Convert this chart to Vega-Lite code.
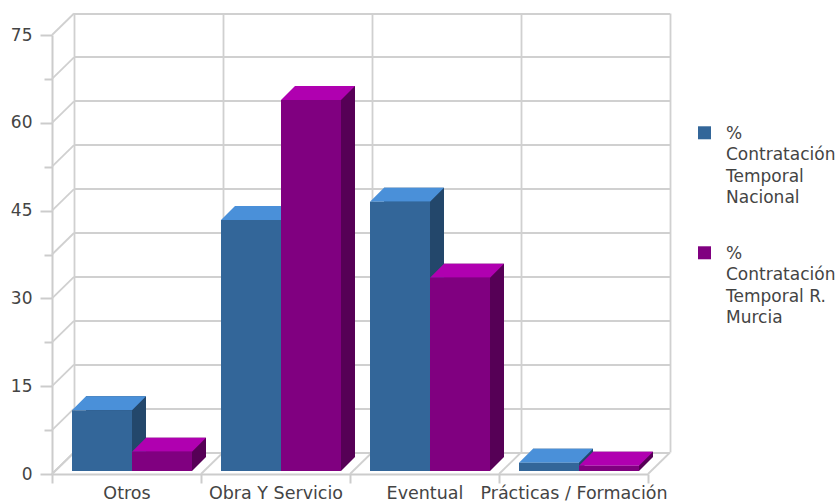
{
  "$schema": "https://vega.github.io/schema/vega-lite/v6.json",
  "width": 596,
  "height": 439,
  "autosize": {"type": "none"},
  "padding": {"left": 52, "top": 35, "right": 188, "bottom": 27},
  "background": "white",
  "config": {
    "font": "DejaVu Sans",
    "view": {"stroke": null},
    "style": {"guide-label": {"lineHeight": 21.5}},
    "axis": {"labelFont": "DejaVu Sans", "labelFontSize": 17, "labelColor": "#444444", "title": null}
  },
  "datasets": {
    "ticks": [{"v": 0}, {"v": 7.5}, {"v": 15}, {"v": 22.5}, {"v": 30}, {"v": 37.5}, {"v": 45}, {"v": 52.5}, {"v": 60}, {"v": 67.5}, {"v": 75}],
    "contratos": [
      {"categoria": "Otros", "serie": "% Contratación Temporal Nacional", "valor": 10.4},
      {"categoria": "Otros", "serie": "% Contratación Temporal R. Murcia", "valor": 3.3},
      {"categoria": "Obra Y Servicio", "serie": "% Contratación Temporal Nacional", "valor": 42.9},
      {"categoria": "Obra Y Servicio", "serie": "% Contratación Temporal R. Murcia", "valor": 63.4},
      {"categoria": "Eventual", "serie": "% Contratación Temporal Nacional", "valor": 46.0},
      {"categoria": "Eventual", "serie": "% Contratación Temporal R. Murcia", "valor": 33.0},
      {"categoria": "Prácticas / Formación", "serie": "% Contratación Temporal Nacional", "valor": 1.4},
      {"categoria": "Prácticas / Formación", "serie": "% Contratación Temporal R. Murcia", "valor": 0.9}
    ]
  },
  "data": {"name": "contratos"},
  "layer": [
    {
      "data": {"name": "ticks"},
      "mark": {"type": "point", "shape": "M-74.5,0L-52.5,-21.5", "size": 4, "filled": false, "stroke": "#d0d0d0", "strokeWidth": 1.8, "opacity": 1},
      "encoding": {
        "x": {"datum": "Otros", "type": "nominal", "axis": null},
        "y": {
          "field": "v", "type": "quantitative",
          "axis": {"orient": "left", "grid": false, "values": [7.5, 22.5, 37.5, 52.5, 67.5], "labels": false, "domain": false, "ticks": true, "tickColor": "#cccccc", "tickWidth": 2, "tickSize": 8, "title": null}
        }
      }
    },
    {
      "transform": [{"filter": "datum.serie === '% Contratación Temporal Nacional'"}],
      "mark": {"type": "point", "shape": "M-74.5,0L-52.5,-21.5", "size": 4, "filled": false, "stroke": "#d0d0d0", "strokeWidth": 1.8, "opacity": 1},
      "encoding": {
        "x": {"field": "categoria", "type": "nominal", "axis": null},
        "y": {"datum": 0, "type": "quantitative", "axis": null}
      }
    },
    {
      "transform": [{"filter": "datum.serie === '% Contratación Temporal Nacional' && datum.categoria === 'Prácticas / Formación'"}],
      "mark": {"type": "point", "shape": "M74.5,0L96.5,-21.5", "size": 4, "filled": false, "stroke": "#d0d0d0", "strokeWidth": 1.8, "opacity": 1},
      "encoding": {
        "x": {"field": "categoria", "type": "nominal", "axis": null},
        "y": {"datum": 0, "type": "quantitative", "axis": null}
      }
    },
    {
      "mark": {"type": "bar", "yOffset": -17, "y2Offset": -17},
      "encoding": {
        "x": {
          "field": "categoria", "type": "nominal", "sort": null,
          "scale": {"domain": ["Otros", "Obra Y Servicio", "Eventual", "Prácticas / Formación"], "paddingInner": 0, "paddingOuter": 0},
          "axis": {"orient": "bottom", "grid": true, "bandPosition": 1, "tickExtra": true, "domain": false, "ticks": false, "labels": false, "gridColor": "#d0d0d0", "gridWidth": 1.8, "translate": -21.5, "tickOffset": 43.5, "title": null}
        },
        "xOffset": {"field": "serie", "type": "nominal", "scale": {"domain": ["% Contratación Temporal Nacional", "% Contratación Temporal R. Murcia"], "range": [34, 154]}},
        "y": {
          "field": "valor", "type": "quantitative",
          "scale": {"domain": [0, 75], "nice": false},
          "axis": {"orient": "left", "grid": true, "values": [0, 7.5, 15, 22.5, 30, 37.5, 45, 52.5, 60, 67.5, 75], "domain": false, "ticks": false, "labels": false, "gridColor": "#d0d0d0", "gridWidth": 1.8, "translate": 22, "tickOffset": -43.5, "title": null}
        },
        "y2": {"datum": 0},
        "fill": {"condition": {"test": "datum.serie === '% Contratación Temporal Nacional'", "value": "#23476b"}, "value": "#560056"}
      }
    },
    {
      "mark": {"type": "point", "shape": "M30,0L44,-14L30,-14Z", "size": 4, "filled": true, "strokeWidth": 0, "opacity": 1, "yOffset": -3},
      "encoding": {
        "x": {"field": "categoria", "type": "nominal", "axis": null},
        "xOffset": {"field": "serie", "type": "nominal", "scale": {"domain": ["% Contratación Temporal Nacional", "% Contratación Temporal R. Murcia"], "range": [20, 140]}},
        "y": {"datum": 0, "type": "quantitative", "axis": null},
        "fill": {"condition": {"test": "datum.serie === '% Contratación Temporal Nacional'", "value": "#23476b"}, "value": "#560056"}
      }
    },
    {
      "mark": {"type": "point", "shape": "M-30,0L30,0L44,-14L-16,-14Z", "size": 4, "filled": true, "strokeWidth": 0, "opacity": 1, "yOffset": -3},
      "encoding": {
        "x": {"field": "categoria", "type": "nominal", "axis": null},
        "xOffset": {"field": "serie", "type": "nominal", "scale": {"domain": ["% Contratación Temporal Nacional", "% Contratación Temporal R. Murcia"], "range": [20, 140]}},
        "y": {"field": "valor", "type": "quantitative", "axis": null},
        "fill": {"condition": {"test": "datum.serie === '% Contratación Temporal Nacional'", "value": "#4a90d9"}, "value": "#b000b0"}
      }
    },
    {
      "mark": {"type": "bar", "yOffset": -3, "y2Offset": -3},
      "encoding": {
        "x": {
          "field": "categoria", "type": "nominal",
          "axis": {"orient": "bottom", "grid": false, "tickBand": "extent", "domain": true, "domainColor": "#cccccc", "domainWidth": 2, "ticks": true, "tickColor": "#cccccc", "tickWidth": 2, "tickSize": 9, "labelPadding": 1, "labelFontSize": 17.5, "labelAngle": 0, "labelLimit": 300, "labelOverlap": false, "title": null}
        },
        "xOffset": {"field": "serie", "type": "nominal", "scale": {"domain": ["% Contratación Temporal Nacional", "% Contratación Temporal R. Murcia"], "range": [20, 140]}},
        "y": {
          "field": "valor", "type": "quantitative",
          "axis": {"orient": "left", "grid": false, "values": [0, 15, 30, 45, 60, 75], "domain": true, "domainColor": "#cccccc", "domainWidth": 2, "ticks": true, "tickColor": "#cccccc", "tickWidth": 2, "tickSize": 12, "labelPadding": 8, "title": null}
        },
        "y2": {"datum": 0},
        "color": {
          "field": "serie", "type": "nominal",
          "scale": {"domain": ["% Contratación Temporal Nacional", "% Contratación Temporal R. Murcia"], "range": ["#336699", "#800080"]},
          "legend": {"orient": "none", "legendX": 644, "legendY": 82, "title": null, "padding": 0, "labelFont": "DejaVu Sans", "labelFontSize": 17, "labelColor": "#444444", "labelBaseline": "top", "labelOffset": 13, "labelLimit": 400, "labelExpr": "split(datum.label, / (?=[A-Z][a-z])/)", "symbolType": "M-1,0.12L1,0.12L1,2.12L-1,2.12Z", "symbolSize": 169, "symbolStrokeWidth": 0, "rowPadding": 31}
        }
      }
    }
  ],
  "resolve": {"axis": {"x": "independent", "y": "independent"}, "scale": {"xOffset": "independent"}}
}
